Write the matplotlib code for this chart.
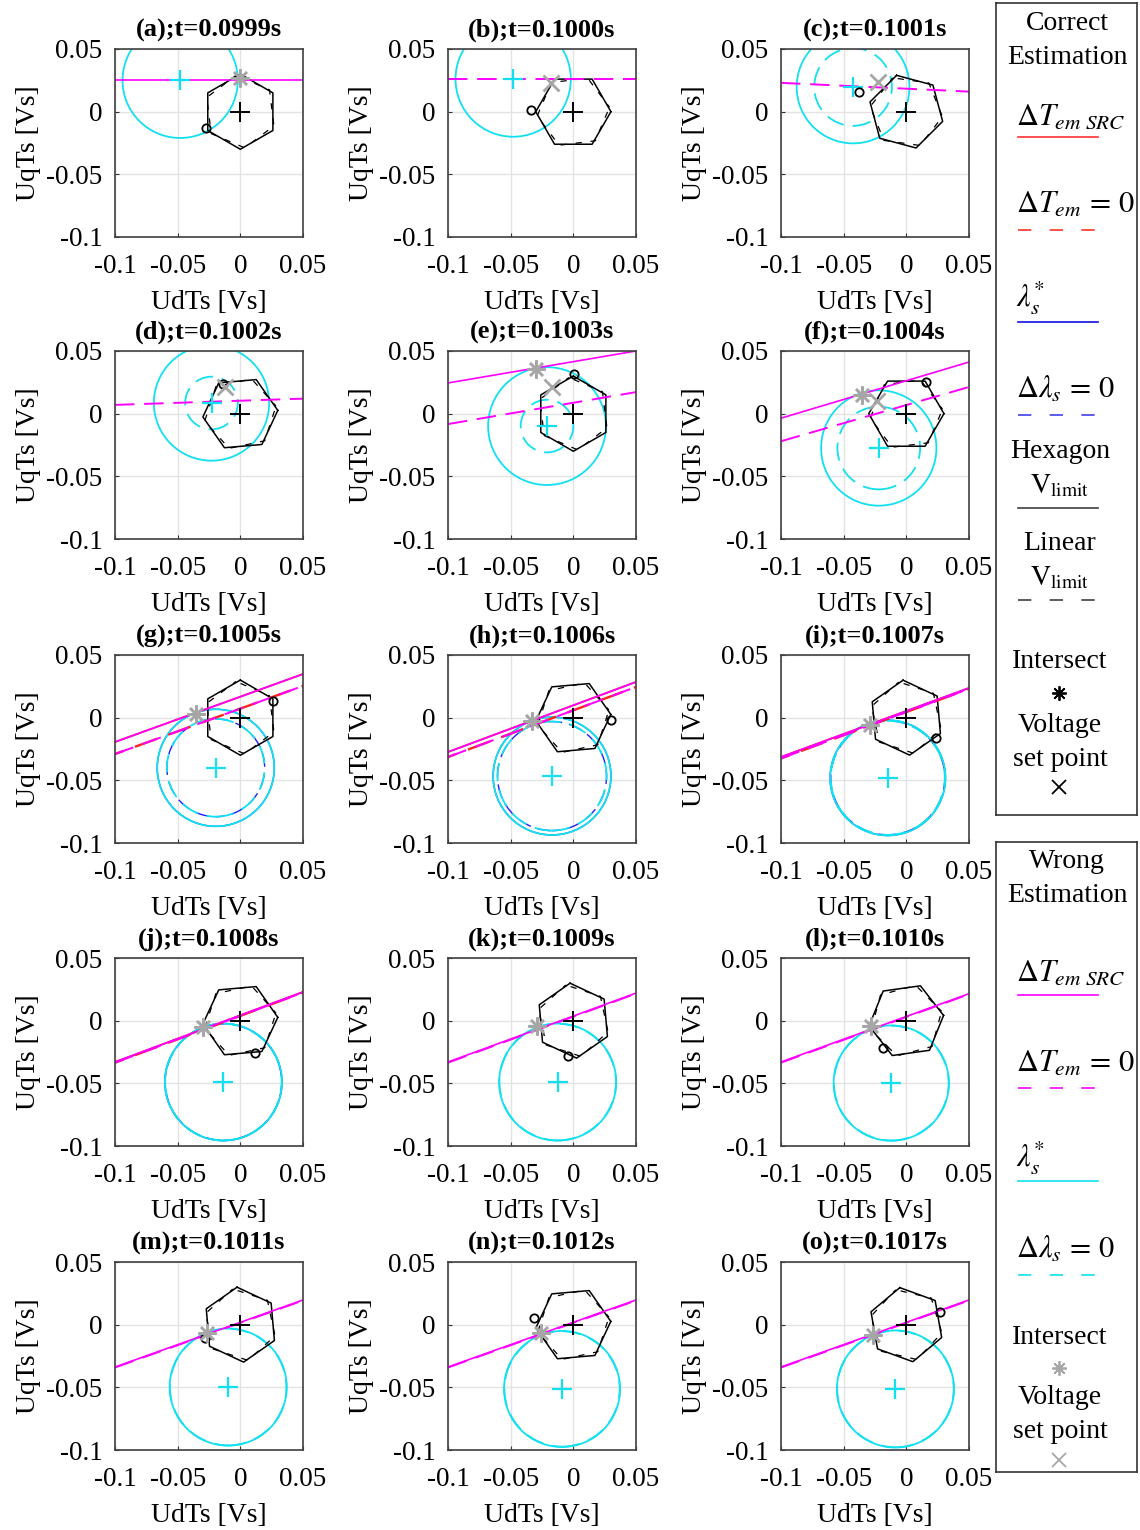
import numpy as np
import matplotlib.pyplot as plt
from matplotlib.patches import Circle

plt.rcParams['font.family'] = ['Liberation Serif', 'DejaVu Serif']
plt.rcParams['mathtext.fontset'] = 'stix'

# ---- data (one entry per panel a..o) ----
titles = ['(a);t=0.0999s', '(b);t=0.1000s', '(c);t=0.1001s',
          '(d);t=0.1002s', '(e);t=0.1003s', '(f);t=0.1004s',
          '(g);t=0.1005s', '(h);t=0.1006s', '(i);t=0.1007s',
          '(j);t=0.1008s', '(k);t=0.1009s', '(l);t=0.1010s',
          '(m);t=0.1011s', '(n);t=0.1012s', '(o);t=0.1017s']
# flux circle centre and radii (lambda_s* solid, d lambda_s = 0 dashed)
cx = [-0.048, -0.048, -0.0425, -0.023, -0.021, -0.022, -0.0196, -0.017, -0.0148,
      -0.0135, -0.0125, -0.012, -0.0097, -0.009, -0.0087]
cy = [0.025, 0.026, 0.0197, 0.0085, -0.0099, -0.0274, -0.040, -0.0466, -0.048,
      -0.049, -0.049, -0.0498, -0.0498, -0.0513, -0.0513]
r_star = [0.046, 0.046, 0.045, 0.046, 0.047, 0.046, 0.0467, 0.047, 0.046,
          0.0467, 0.0467, 0.046, 0.0467, 0.0463, 0.0467]
r_zero = [np.nan, np.nan, 0.031, 0.021, 0.021, 0.033, 0.039, 0.0435, 0.0455,
          0.0465, 0.0465, 0.0458, 0.0465, 0.046, 0.0465]
# torque lines: y at UdTs=-0.1 and at UdTs=0.05
src_y0 = [0.025, np.nan, np.nan, np.nan, 0.0245, -0.0036, -0.0194, -0.0274, -0.0314,
          -0.033, -0.033, -0.033, -0.0338, -0.0338, -0.0338]
src_y1 = [0.025, np.nan, np.nan, np.nan, 0.050, 0.0412, 0.0348, 0.0285, 0.0237,
          0.0229, 0.022, 0.0215, 0.0197, 0.0197, 0.0197]
zero_y0 = [np.nan, 0.026, 0.023, 0.007, -0.0083, -0.022, -0.029, -0.0314, -0.0325,
           -0.0335, -0.0335, -0.0335, -0.0342, -0.0342, -0.0342]
zero_y1 = [np.nan, 0.026, 0.016, 0.012, 0.0172, 0.0213, 0.0253, 0.0245, 0.023,
           0.0225, 0.0216, 0.0211, 0.0193, 0.0193, 0.0193]
# intersect (*) and voltage set point (x)
star_x = [0.0, np.nan, np.nan, np.nan, -0.030, -0.0354, -0.0354, -0.033, -0.029,
          -0.0298, -0.029, -0.028, -0.0266, -0.0258, -0.0266]
star_y = [0.027, np.nan, np.nan, np.nan, 0.036, 0.0149, 0.0029, -0.0027, -0.0059,
          -0.005, -0.0043, -0.0045, -0.0067, -0.0067, -0.0083]
set_x = [np.nan, -0.018, -0.023, -0.012, -0.017, -0.0234, np.nan, np.nan, np.nan,
         np.nan, np.nan, np.nan, np.nan, np.nan, np.nan]
set_y = [np.nan, 0.023, 0.024, 0.021, 0.021, 0.0101, np.nan, np.nan, np.nan,
         np.nan, np.nan, np.nan, np.nan, np.nan, np.nan]
# previous voltage vector (o)
prev_x = [-0.027, -0.034, -0.038, -0.014, 0.0006, 0.0157, 0.026, 0.030, 0.0237,
          0.0117, -0.0042, -0.0186, -0.028, -0.0314, 0.0269]
prev_y = [-0.013, 0.001, 0.016, 0.024, 0.0316, 0.0254, 0.0133, -0.002, -0.0162,
          -0.0258, -0.0278, -0.022, -0.011, 0.0053, 0.010]
# hexagon orientation (deg of first vertex) and radius
hex_ang = [90, 0, 105, 5, 90, 0, 90, 5, 95, 5, 95, 8, 95, 5, 100]
hex_r = 0.030
# panels where the correct-estimation (red/blue) curves show beneath
show_correct = [False] * 6 + [True] * 4 + [False] * 5

ticks = [-0.1, -0.05, 0, 0.05]
tick_labels = ['-0.1', '-0.05', '0', '0.05']

MAG = '#ff00ff'
CYA = '#12e0f0'
GRY = '#a6a6a6'
W, H = 1140, 1530

fig = plt.figure(figsize=(W / 100, H / 100), dpi=100)

col_left = [115, 448, 781]
row_top = [49, 351, 655, 958, 1262]
size = 188
dash = (0, (10, 5))

for k in range(15):
    r, c = divmod(k, 3)
    ax = fig.add_axes([col_left[c] / W, 1 - (row_top[r] + size) / H, size / W, size / H])
    ax.set_xlim(-0.1, 0.05)
    ax.set_ylim(-0.1, 0.05)
    ax.set_xticks(ticks)
    ax.set_yticks(ticks)
    ax.set_xticklabels(tick_labels)
    ax.set_yticklabels(tick_labels)
    ax.tick_params(direction='in', length=3, labelsize=19.5, color='#333333')
    ax.tick_params(axis='x', pad=12)
    ax.tick_params(axis='y', pad=9)
    ax.grid(True, color='#e3e3e3', lw=1.0)
    ax.set_axisbelow(True)
    for s in ax.spines.values():
        s.set_color('#404040')
        s.set_linewidth(1.2)
    ax.set_title(titles[k], fontsize=19, fontweight='bold', pad=9)
    ax.set_xlabel('UdTs [Vs]', fontsize=20, labelpad=8)
    ax.set_ylabel('UqTs [Vs]', fontsize=20, labelpad=4)

    # hexagon limits
    a = np.deg2rad(hex_ang[k] + np.arange(7) * 60)
    ax.plot(hex_r * np.cos(a), hex_r * np.sin(a), color='k', lw=1.1)
    a2 = a + np.deg2rad(7)
    ax.plot(hex_r * 0.97 * np.cos(a2), hex_r * 0.97 * np.sin(a2), color='k', lw=0.9,
            ls=(2, (5, 7)))

    xs = [-0.1, 0.05]
    if show_correct[k]:
        ax.plot(xs, [src_y0[k], src_y1[k]], color='#ff2020', lw=1.3)
        ax.plot(xs, [zero_y0[k], zero_y1[k]], color='#ff2020', lw=1.7, ls=(6, (10, 5)))
        ax.add_patch(Circle((cx[k], cy[k]), r_star[k], fill=False, ec='#2020ff', lw=1.0))
        if not np.isnan(r_zero[k]):
            ax.add_patch(Circle((cx[k], cy[k]), r_zero[k], fill=False, ec='#2020ff',
                                lw=1.0, ls=(4, (10, 5))))

    if not np.isnan(src_y0[k]):
        ax.plot(xs, [src_y0[k], src_y1[k]], color=MAG, lw=1.2)
    if not np.isnan(zero_y0[k]):
        ax.plot(xs, [zero_y0[k], zero_y1[k]], color=MAG, lw=1.4, ls=dash)
    ax.add_patch(Circle((cx[k], cy[k]), r_star[k], fill=False, ec=CYA, lw=1.3))
    if not np.isnan(r_zero[k]):
        ax.add_patch(Circle((cx[k], cy[k]), r_zero[k], fill=False, ec=CYA, lw=1.3, ls=dash))

    ax.plot(cx[k], cy[k], marker='+', color=CYA, ms=14, mew=1.6)
    ax.plot(0, 0, marker='+', color='k', ms=14, mew=1.4)
    ax.plot(prev_x[k], prev_y[k], marker='o', mfc='none', mec='k', ms=6, mew=1.3)
    ax.plot(set_x[k], set_y[k], marker='x', color=GRY, ms=11, mew=2.0)
    ax.plot(star_x[k], star_y[k], marker=(8, 2, 0), color=GRY, ms=13, mew=1.8)

# ---- legend panels ----
def legend_panel(y_top, y_bot, entries, head):
    lax = fig.add_axes([996 / W, 1 - y_bot / H, 141 / W, (y_bot - y_top) / H])
    lax.set_xlim(996, 1137)
    lax.set_ylim(y_bot, y_top)
    lax.set_xticks([])
    lax.set_yticks([])
    for s in lax.spines.values():
        s.set_color('#333333')
        s.set_linewidth(1.2)
    lax.text(1067, y_top + 20, head[0], ha='center', va='center', fontsize=20)
    lax.text(1067, y_top + 54, head[1], ha='center', va='center', fontsize=20)
    for kind, label, ty, ly, color, style in entries:
        if kind == 'line':
            lax.text(1016, ty, label, ha='left', va='center', fontsize=22)
            lax.plot([1018, 1098], [ly, ly], color=color, lw=1.2, ls=style)
        elif kind == 'text':
            lax.text(1060, ty, label, ha='center', va='center', fontsize=20)
        elif kind == 'marker':
            ms = 12 if style == 'x' else 13
            lax.plot(1059, ty, marker=style, color=color, ms=ms * 0.8, mew=1.3)
    return lax

top_entries = [
    ('line', r'$\Delta T_{em\ SRC}$', 117, 137, '#ff3030', '-'),
    ('line', r'$\Delta T_{em}\,=\,0$', 205, 230, '#ff3030', (0, (8, 11))),
    ('line', r'$\lambda_s^{*}$', 298, 322, '#1010e0', '-'),
    ('line', r'$\Delta\lambda_s\,=\,0$', 390, 415, '#4040f0', (0, (8, 11))),
    ('text', 'Hexagon', 452, 0, 'k', None),
    ('text', r'$\mathrm{V_{limit}}$', 486, 0, 'k', None),
    ('line', '', 486, 508, '#404040', '-'),
    ('text', 'Linear', 544, 0, 'k', None),
    ('text', r'$\mathrm{V_{limit}}$', 578, 0, 'k', None),
    ('line', '', 578, 600, '#404040', (0, (8, 11))),
    ('text', 'Intersect', 661, 0, 'k', None),
    ('marker', '', 693, 0, 'k', (8, 2, 0)),
    ('text', 'Voltage', 725, 0, 'k', None),
    ('text', 'set point', 759, 0, 'k', None),
    ('marker', '', 787, 0, 'k', 'x'),
]
legend_panel(3, 815, top_entries, ('Correct', 'Estimation'))

bot_entries = [
    ('line', r'$\Delta T_{em\ SRC}$', 973, 995, MAG, '-'),
    ('line', r'$\Delta T_{em}\,=\,0$', 1064, 1088, MAG, (0, (8, 11))),
    ('line', r'$\lambda_s^{*}$', 1158, 1181, CYA, '-'),
    ('line', r'$\Delta\lambda_s\,=\,0$', 1250, 1275, CYA, (0, (8, 11))),
    ('text', 'Intersect', 1338, 0, 'k', None),
    ('marker', '', 1368, 0, GRY, (8, 2, 0)),
    ('text', 'Voltage', 1397, 0, 'k', None),
    ('text', 'set point', 1432, 0, 'k', None),
    ('marker', '', 1460, 0, GRY, 'x'),
]
legend_panel(842, 1472, bot_entries, ('Wrong', 'Estimation'))

fig.savefig('out.png', dpi=100)
